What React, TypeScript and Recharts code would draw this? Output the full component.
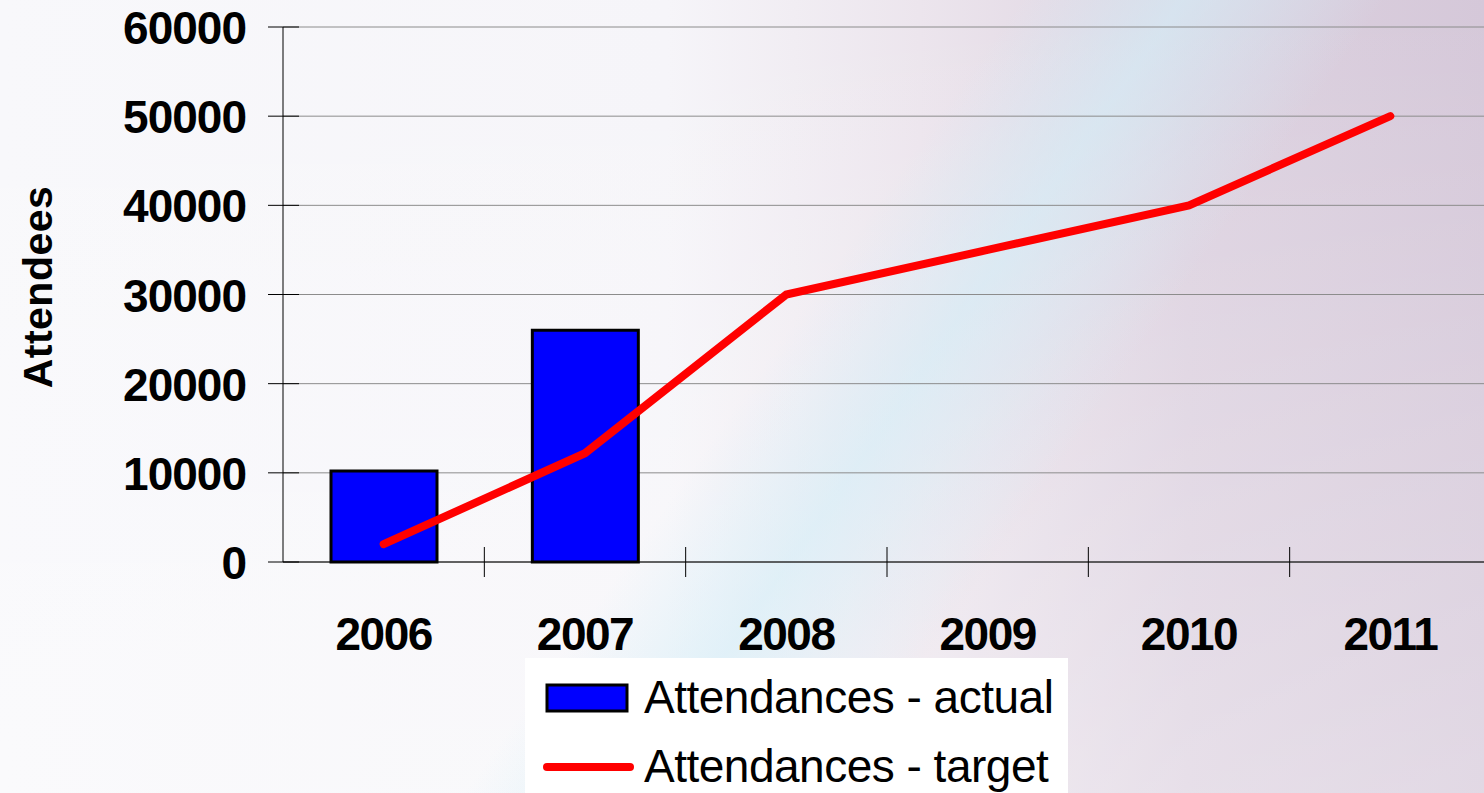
import React from "react";
import {
  ComposedChart,
  Bar,
  Line,
  XAxis,
  YAxis,
  CartesianGrid,
} from "recharts";

// chart values
const years = ["2006", "2007", "2008", "2009", "2010", "2011"];
const actualAttendances = [10200, 26000, null, null, null, null];
const targetAttendances = [2000, 12200, 30000, 35000, 40000, 50000];
const yTicks = [0, 10000, 20000, 30000, 40000, 50000, 60000];

const data = years.map((year, i) => ({
  year,
  actual: actualAttendances[i],
  target: targetAttendances[i],
}));

const FONT = '"Liberation Sans", Arial, Helvetica, sans-serif';
const CHART_W = 1500;
const CHART_H = 793;
const AXIS_X = 283;
const PLOT_RIGHT = 1491;
const HALF_BAND = (PLOT_RIGHT - AXIS_X) / years.length / 2;

function YTick(props: any) {
  const { x, y, payload } = props;
  return (
    <g>
      <line x1={x - 15} x2={x + 16} y1={y} y2={y} stroke="#000" strokeWidth={1} />
      <text
        x={x - 37}
        y={y + 17}
        textAnchor="end"
        fontFamily={FONT}
        fontWeight="bold"
        fontSize={46}
        letterSpacing={-1}
        fill="#000"
      >
        {payload.value}
      </text>
    </g>
  );
}

function XTick(props: any) {
  const { x, y, payload } = props;
  return (
    <g>
      <line
        x1={x + HALF_BAND}
        x2={x + HALF_BAND}
        y1={y - 15}
        y2={y + 15}
        stroke="#000"
        strokeWidth={1}
      />
      <text
        x={x}
        y={y + 88}
        textAnchor="middle"
        fontFamily={FONT}
        fontWeight="bold"
        fontSize={46}
        letterSpacing={-1.5}
        fill="#000"
      >
        {payload.value}
      </text>
    </g>
  );
}

function ChartLegend() {
  return (
    <svg
      width={543}
      height={135}
      style={{ position: "absolute", left: 525, top: 658 }}
    >
      <rect x={0} y={0} width={543} height={135} fill="#fff" />
      <rect x={22} y={27} width={80} height={26} fill="#0000ff" stroke="#000" strokeWidth={3} />
      <text x={119} y={55} fontFamily={FONT} fontSize={46} letterSpacing={-0.5} fill="#000">
        Attendances - actual
      </text>
      <line x1={22} x2={105} y1={109} y2={109} stroke="#ff0000" strokeWidth={8} strokeLinecap="round" />
      <text x={119} y={124} fontFamily={FONT} fontSize={46} letterSpacing={-0.5} fill="#000">
        Attendances - target
      </text>
    </svg>
  );
}

export default function App() {
  return (
    <div
      style={{
        position: "fixed",
        left: 0,
        top: 0,
        width: 1484,
        height: 793,
        overflow: "hidden",
        background:
          "linear-gradient(125deg, rgba(255,255,255,0) 50%, rgba(210,238,248,0.6) 58%, rgba(255,255,255,0) 68%)," +
          "linear-gradient(to bottom, rgba(255,255,255,0) 0%, rgba(255,255,255,0.3) 100%)," +
          "linear-gradient(to right, #f8f8fb 0%, #f6f5f9 45%, #ece5ed 62%, #ddd2e0 80%, #d5c8d9 100%)",
      }}
    >
      <ComposedChart
        width={CHART_W}
        height={CHART_H}
        data={data}
        margin={{ top: 27, right: CHART_W - PLOT_RIGHT, bottom: 0, left: 0 }}
      >
        <CartesianGrid vertical={false} stroke="#8c8c8c" strokeWidth={1} />
        <XAxis
          dataKey="year"
          height={CHART_H - 562}
          axisLine={{ stroke: "#000", strokeWidth: 1 }}
          tickLine={false}
          tickSize={0}
          tickMargin={0}
          tick={<XTick />}
          interval={0}
        />
        <YAxis
          width={AXIS_X}
          domain={[0, 60000]}
          ticks={yTicks}
          axisLine={{ stroke: "#000", strokeWidth: 1 }}
          tickLine={false}
          tickSize={0}
          tickMargin={0}
          tick={<YTick />}
          interval={0}
        />
        <Bar
          dataKey="actual"
          name="Attendances - actual"
          fill="#0000ff"
          stroke="#000"
          strokeWidth={3}
          barSize={106}
          isAnimationActive={false}
        />
        <Line
          dataKey="target"
          name="Attendances - target"
          stroke="#ff0000"
          strokeWidth={8}
          strokeLinecap="round"
          dot={false}
          activeDot={false}
          isAnimationActive={false}
        />
      </ComposedChart>
      <svg
        width={80}
        height={420}
        style={{ position: "absolute", left: 0, top: 80 }}
      >
        <text
          x={0}
          y={0}
          transform="translate(52 207) rotate(-90)"
          textAnchor="middle"
          fontFamily={FONT}
          fontWeight="bold"
          fontSize={41}
          letterSpacing={0.5}
          fill="#000"
        >
          Attendees
        </text>
      </svg>
      <ChartLegend />
    </div>
  );
}
